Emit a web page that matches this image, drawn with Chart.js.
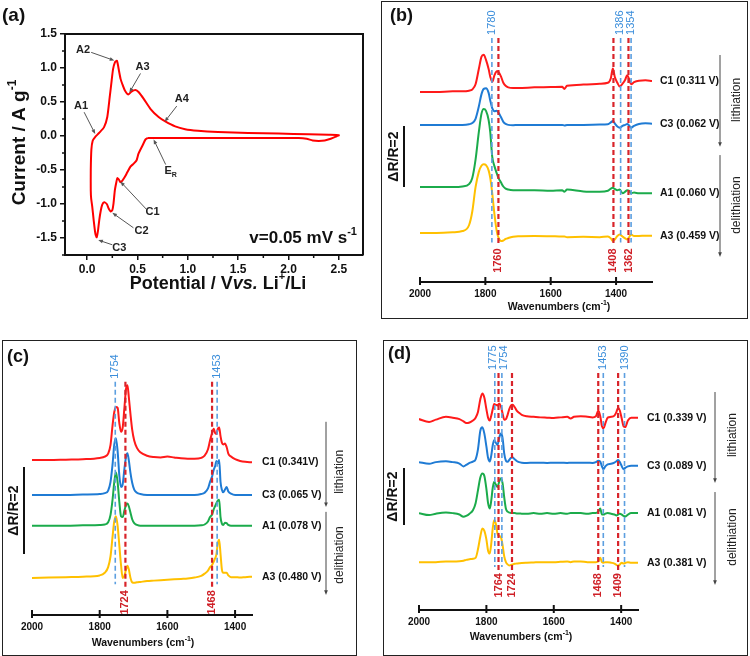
<!DOCTYPE html>
<html lang="en">
<head>
<meta charset="UTF-8" />
<title>CV and in situ IR spectra</title>
<script src="https://cdn.jsdelivr.net/npm/chart.js"></script>
<style>
  body { margin: 0; background: #fff; width: 750px; height: 656px; overflow: hidden; position: relative; }
  canvas { position: absolute; }
  .frame { position: absolute; border: 1.5px solid #222; box-sizing: border-box; }
</style>
</head>
<body>
<div class="frame" style="left:381px;top:1px;width:367px;height:318px"></div>
<div class="frame" style="left:2px;top:340px;width:355px;height:316px"></div>
<div class="frame" style="left:383px;top:340px;width:365px;height:316px"></div>
<canvas id="cv" width="375" height="300" style="left:0;top:0"></canvas>
<canvas id="irB" width="369" height="320" style="left:381px;top:0"></canvas>
<canvas id="irC" width="360" height="318" style="left:0;top:338px"></canvas>
<canvas id="irD" width="369" height="318" style="left:381px;top:338px"></canvas>

<script>
const FONT = '"Liberation Sans", Arial, sans-serif';
Chart.defaults.font.family = FONT;

// ---- (a) cyclic voltammogram: one loop, starting at E_R going cathodic ----
const cvPotential = [
  0.60, 0.58, 0.55, 0.51, 0.49, 0.46, 0.43, 0.40, 0.375, 0.35, 0.33, 0.315, 0.30, 0.29, 0.275,
  0.262, 0.25, 0.234, 0.215, 0.195, 0.17, 0.15, 0.135, 0.12, 0.107, 0.095, 0.082, 0.065, 0.05, 0.04,
  0.036, 0.036, 0.042, 0.055, 0.079, 0.118, 0.168, 0.20, 0.224, 0.243, 0.257, 0.275, 0.296, 0.316, 0.332,
  0.349, 0.375, 0.408, 0.44, 0.48, 0.513, 0.562, 0.628, 0.71, 0.776, 0.874, 0.973, 1.10, 1.3, 1.6,
  1.9, 2.2, 2.4, 2.5,
  2.47, 2.42, 2.36, 2.3, 2.24, 2.18, 2.1, 1.8, 1.4, 1.0, 0.8, 0.65, 0.60
];
const cvCurrent = [
  -0.03, -0.05, -0.14, -0.26, -0.36, -0.41, -0.45, -0.53, -0.6, -0.655, -0.68, -0.64, -0.62, -0.68, -0.8,
  -0.99, -1.09, -1.11, -1.07, -1.0, -0.975, -1.01, -1.1, -1.24, -1.4, -1.49, -1.44, -1.24, -1.03, -0.92,
  -0.8, -0.5, -0.2, -0.07, -0.015, 0.044, 0.13, 0.28, 0.57, 0.81, 0.98, 1.08, 1.106, 0.96, 0.84,
  0.765, 0.668, 0.61, 0.653, 0.677, 0.643, 0.546, 0.40, 0.278, 0.214, 0.141, 0.10, 0.078, 0.06, 0.045,
  0.035, 0.025, 0.018, 0.012,
  -0.01, -0.04, -0.065, -0.072, -0.065, -0.04, -0.03, -0.03, -0.03, -0.028, -0.028, -0.028, -0.03
];
const cvXTicks = [0, 0.5, 1, 1.5, 2, 2.5];
const cvYTicks = [-1.5, -1, -0.5, 0, 0.5, 1, 1.5];
const cvXMinor = [0.25, 0.75, 1.25, 1.75, 2.25];
const cvYMinor = [-1.75, -1.25, -0.75, -0.25, 0.25, 0.75, 1.25];

// ---- IR spectra (ΔR/R, relative to each trace's own baseline) ----
const irTicks = [2000, 1800, 1600, 1400];
const traceNames = ['C1', 'C3', 'A1', 'A3'];

// (b)
const wnB = [2000, 1950, 1900, 1870, 1850, 1840, 1830, 1820, 1812, 1805, 1798, 1790, 1785, 1779, 1772,
  1765, 1760, 1752, 1745, 1738, 1730, 1715, 1700, 1650, 1600, 1565, 1558, 1550, 1500, 1450,
  1425, 1416, 1410, 1404, 1396, 1389, 1380, 1372, 1366, 1360, 1354, 1345, 1330, 1310, 1290];
const bC1 = [0, 0, 0.02, 0.02, 0.04, 0.08, 0.25, 0.75, 1.15, 1.22, 1.05, 0.75, 0.5, 0.33, 0.55,
  0.68, 0.66, 0.5, 0.3, 0.2, 0.15, 0.13, 0.13, 0.15, 0.16, 0.17, 0.1, 0.2, 0.24, 0.27,
  0.3, 0.45, 0.77, 0.5, 0.3, 0.18, 0.27, 0.4, 0.55, 0.42, 0.25, 0.32, 0.37, 0.38, 0.36];
const bC3 = [0, 0, 0, 0, 0.02, 0.06, 0.2, 0.6, 1.0, 1.18, 1.2, 1.05, 0.8, 0.55, 0.45,
  0.46, 0.4, 0.25, 0.1, 0.03, 0, -0.01, 0, 0, 0, 0, -0.02, 0, 0, 0.01,
  0.02, 0.08, 0.13, 0.05, -0.05, -0.09, -0.03, 0, 0.03, -0.02, -0.09, -0.03, 0.03, 0.05, 0.04];
const bA1 = [0, 0, 0, 0.02, 0.1, 0.3, 0.9, 1.8, 2.4, 2.56, 2.5, 2.2, 1.8, 1.0, 0.68,
  0.45, 0.3, 0.15, 0.02, -0.05, -0.08, -0.1, -0.1, -0.1, -0.12, -0.1, -0.15, -0.08, -0.14, -0.15,
  -0.12, -0.05, -0.02, -0.06, -0.1, -0.08, -0.2, -0.15, -0.1, -0.12, -0.2, -0.18, -0.2, -0.2, -0.2];
const bA3 = [0, 0, 0.02, 0.06, 0.25, 0.7, 1.5, 2.0, 2.2, 2.25, 2.22, 2.05, 1.8, 1.3, 0.6,
  0.05, -0.15, -0.27, -0.25, -0.2, -0.17, -0.13, -0.11, -0.1, -0.11, -0.12, -0.12, -0.14, -0.13, -0.14,
  -0.12, -0.18, -0.27, -0.22, -0.1, -0.05, -0.12, -0.18, -0.22, -0.14, -0.05, -0.1, -0.1, -0.09, -0.09];
const bOffsets = [6.23, 5.15, 3.11, 1.61];
const bPotentials = ['0.311 V', '0.062 V', '0.060 V', '0.459 V'];
const bBlue = [1780, 1386, 1354];
const bRed = [1760, 1408, 1362];

// (c)
const wnC = [2000, 1950, 1900, 1850, 1800, 1785, 1775, 1768, 1762, 1757, 1752, 1747, 1742, 1737, 1732,
  1727, 1722, 1718, 1714, 1709, 1704, 1698, 1690, 1680, 1660, 1640, 1620, 1600, 1580, 1560,
  1540, 1520, 1500, 1490, 1480, 1474, 1468, 1463, 1459, 1455, 1451, 1447, 1443, 1439, 1435,
  1430, 1425, 1420, 1412, 1400, 1385, 1370, 1350];
const cC1 = [0, 0, 0.01, 0.02, 0.05, 0.08, 0.15, 0.35, 0.8, 1.1, 1.22, 1.2, 0.85, 0.65, 0.75,
  1.2, 1.65, 1.72, 1.45, 1.05, 0.7, 0.45, 0.28, 0.18, 0.1, 0.07, 0.06, 0.08, 0.06, 0.04,
  0.03, 0.03, 0.05, 0.1, 0.25, 0.45, 0.62, 0.72, 0.62, 0.6, 0.72, 0.75, 0.55, 0.4, 0.36,
  0.38, 0.3, 0.15, 0.08, 0.02, -0.02, -0.04, -0.05];
const cC3 = [0, 0, 0, 0.01, 0.02, 0.04, 0.1, 0.3, 0.7, 1.15, 1.3, 1.0, 0.45, 0.18, 0.25,
  0.6, 0.88, 0.96, 0.8, 0.5, 0.28, 0.12, 0.05, 0.02, 0, 0, 0, 0, 0, 0,
  0, 0, 0.02, 0.05, 0.15, 0.3, 0.42, 0.58, 0.66, 0.78, 0.72, 0.8, 0.3, 0.12, 0.06,
  0.12, 0.18, 0.08, 0.03, 0, 0, 0, 0];
const cA1 = [0, 0, 0, 0.01, 0.02, 0.03, 0.08, 0.25, 0.6, 1.0, 1.23, 1.0, 0.55, 0.22, 0.2,
  0.35, 0.48, 0.51, 0.45, 0.3, 0.15, 0.06, 0.02, 0, 0, 0, 0, 0, 0, 0,
  0, 0, 0.01, 0.03, 0.1, 0.2, 0.26, 0.38, 0.45, 0.52, 0.58, 0.6, 0.2, 0.05, 0.02,
  0.07, 0.06, 0.02, 0, 0, 0, 0, 0];
const cA3 = [0, 0.01, 0.02, 0.03, 0.06, 0.12, 0.25, 0.5, 0.95, 1.3, 1.42, 1.2, 0.75, 0.3, 0.0,
  0.05, 0.2, 0.28, 0.2, 0.0, -0.1, -0.11, -0.1, -0.09, -0.07, -0.06, -0.05, -0.04, -0.03, -0.02,
  -0.01, 0.01, 0.05, 0.1, 0.17, 0.25, 0.3, 0.38, 0.45, 0.55, 0.8, 0.88, 0.55, 0.2, 0.12,
  0.12, 0.12, 0.06, 0.02, 0.02, 0.01, 0.02, 0.03];
const cOffsets = [3.56, 2.76, 2.05, 0.85];
const cPotentials = ['0.341V', '0.065 V', '0.078 V', '0.480 V'];
const cBlue = [1754, 1453];
const cRed = [1724, 1468];

// (d)
const wnD = [2000, 1970, 1950, 1920, 1900, 1880, 1868, 1860, 1850, 1840, 1832, 1825, 1818, 1812, 1806,
  1800, 1795, 1790, 1786, 1781, 1777, 1772, 1767, 1762, 1757, 1752, 1747, 1742, 1737, 1732,
  1727, 1722, 1716, 1710, 1703, 1695, 1680, 1660, 1640, 1620, 1600, 1580, 1560, 1550, 1540,
  1520, 1500, 1485, 1475, 1468, 1462, 1457, 1452, 1447, 1440, 1430, 1420, 1414, 1409, 1404,
  1398, 1393, 1388, 1380, 1370, 1360, 1350];
const dC1 = [0, -0.1, -0.02, 0.08, 0.05, 0.0, -0.08, -0.14, -0.12, -0.05, 0.05, 0.25, 0.7, 0.9, 0.75,
  0.35, 0.05, -0.05, 0.1, 0.35, 0.53, 0.5, 0.48, 0.55, 0.45, 0.2, -0.02, 0.0, 0.15, 0.35,
  0.48, 0.5, 0.42, 0.3, 0.22, 0.15, 0.1, 0.08, 0.06, 0.05, 0.04, 0.06, 0.08, 0.02, 0.08,
  0.1, 0.08, 0.06, 0.1, 0.3, 0.1, -0.25, -0.32, -0.15, 0.05, 0.08, 0.12, 0.25, 0.4, 0.3,
  0.0, -0.25, -0.28, -0.05, 0.05, 0.05, 0.05];
const dC3 = [0, -0.06, 0.0, 0.03, 0.0, -0.05, -0.15, -0.1, -0.03, 0.02, 0.1, 0.45, 1.1, 1.22, 1.0,
  0.55, 0.15, 0.02, 0.2, 0.6, 0.77, 0.68, 0.6, 0.85, 1.0, 0.85, 0.3, 0.05, 0.01, 0.08,
  0.15, 0.16, 0.1, 0.04, 0.0, -0.02, -0.03, -0.02, -0.02, -0.03, -0.02, -0.02, -0.03, -0.02, -0.02,
  -0.02, -0.02, -0.03, 0.0, 0.05, 0.02, -0.15, -0.25, -0.15, -0.08, -0.06, -0.02, 0.03, 0.07, 0.0,
  -0.15, -0.25, -0.2, -0.15, -0.13, -0.13, -0.13];
const dA1 = [0, -0.07, -0.02, 0.02, 0.0, -0.05, -0.13, -0.1, -0.02, 0.1, 0.35, 0.8, 1.25, 1.39, 1.3,
  0.85, 0.35, 0.16, 0.4, 0.9, 1.1, 1.0, 0.92, 1.1, 1.22, 1.05, 0.55, 0.15, 0.05, 0.02,
  0.0, 0.0, 0.0, -0.01, -0.01, -0.02, -0.02, 0.0, -0.02, 0.0, -0.02, 0.0, -0.02, 0.0, 0.0,
  0.0, -0.02, 0.0, 0.0, 0.05, 0.16, -0.05, -0.05, -0.02, 0.0, -0.02, -0.05, -0.08, -0.05, -0.02,
  -0.05, -0.1, -0.12, -0.05, 0.0, 0.0, 0.0];
const dA3 = [0, 0.0, 0.0, 0.02, 0.02, 0.03, 0.05, 0.08, 0.1, 0.12, 0.15, 0.45, 0.9, 1.18, 1.1,
  0.8, 0.4, 0.3, 0.6, 1.2, 1.47, 1.35, 1.0, 0.92, 0.88, 0.6, 0.2, 0.0, -0.08, -0.12,
  -0.1, -0.08, -0.06, -0.05, -0.04, -0.03, -0.02, -0.01, 0.0, 0.0, 0.0, 0.01, 0.02, 0.0, 0.02,
  0.02, 0.0, 0.0, 0.0, 0.02, 0.15, 0.0, -0.02, 0.0, 0.0, -0.02, -0.05, -0.1, -0.13, -0.08,
  -0.02, -0.05, -0.03, 0.0, -0.02, -0.02, -0.02];
const dOffsets = [6.70, 5.19, 3.40, 1.68];
const dPotentials = ['0.339 V', '0.089 V', '0.081 V', '0.381 V'];
const dBlue = [1775, 1754, 1453, 1390];
const dRed = [1764, 1724, 1468, 1409];

// ---- drawing helpers ----
function richText(ctx, parts, x, y, size, opts = {}) {
  const weight = opts.weight || 'bold';
  const fontFor = st => (st === 'i' ? 'italic ' : '') + weight + ' ' +
    (st === 'sup' || st === 'sub' ? Math.round(size * 0.62) : size) + 'px ' + FONT;
  ctx.save();
  ctx.translate(x, y);
  if (opts.rot) ctx.rotate(opts.rot);
  ctx.fillStyle = opts.color || '#111';
  let w = 0;
  parts.forEach(([t, st]) => { ctx.font = fontFor(st); w += ctx.measureText(t).width; });
  let cx = opts.align === 'center' ? -w / 2 : opts.align === 'right' ? -w : 0;
  ctx.textBaseline = 'middle';
  ctx.textAlign = 'left';
  parts.forEach(([t, st]) => {
    ctx.font = fontFor(st);
    const dy = st === 'sup' ? -size * 0.38 : st === 'sub' ? size * 0.32 : 0;
    ctx.fillText(t, cx, dy);
    cx += ctx.measureText(t).width;
  });
  ctx.restore();
}

function seg(ctx, x1, y1, x2, y2, color, lw) {
  ctx.save();
  ctx.strokeStyle = color; ctx.lineWidth = lw;
  ctx.beginPath(); ctx.moveTo(x1, y1); ctx.lineTo(x2, y2); ctx.stroke();
  ctx.restore();
}

function arrow(ctx, x1, y1, x2, y2, color, head) {
  const a = Math.atan2(y2 - y1, x2 - x1);
  ctx.save();
  ctx.strokeStyle = color; ctx.fillStyle = color; ctx.lineWidth = 1;
  ctx.beginPath();
  ctx.moveTo(x1, y1);
  ctx.lineTo(x2 - Math.cos(a) * head * 0.8, y2 - Math.sin(a) * head * 0.8);
  ctx.stroke();
  ctx.beginPath();
  ctx.moveTo(x2, y2);
  ctx.lineTo(x2 - head * Math.cos(a - 0.38), y2 - head * Math.sin(a - 0.38));
  ctx.lineTo(x2 - head * Math.cos(a + 0.38), y2 - head * Math.sin(a + 0.38));
  ctx.closePath();
  ctx.fill();
  ctx.restore();
}

// spread label positions apart when two dashed lines sit too close together
function spread(px, gap) {
  const out = px.slice();
  for (let i = 1; i < out.length; i++) {
    const d = out[i] - out[i - 1];
    if (d < gap) { out[i - 1] -= (gap - d) / 2; out[i] += (gap - d) / 2; }
  }
  return out;
}

// ---- (a) CV panel ----
const cvNotes = [
  { t: [['A1', '']], at: [-0.06, 0.44], from: [-0.03, 0.35], to: [0.08, 0.03] },
  { t: [['A2', '']], at: [-0.04, 1.26], from: [0.04, 1.23], to: [0.27, 1.11] },
  { t: [['A3', '']], at: [0.55, 1.01], from: [0.53, 0.92], to: [0.42, 0.64] },
  { t: [['A4', '']], at: [0.94, 0.54], from: [0.89, 0.44], to: [0.77, 0.21] },
  { t: [['E', ''], ['R', 'sub']], at: [0.83, -0.52], from: [0.78, -0.42], to: [0.66, -0.05] },
  { t: [['C1', '']], at: [0.65, -1.12], from: [0.59, -1.08], to: [0.33, -0.67] },
  { t: [['C2', '']], at: [0.54, -1.40], from: [0.46, -1.35], to: [0.25, -1.13] },
  { t: [['C3', '']], at: [0.32, -1.64], from: [0.25, -1.60], to: [0.11, -1.53] }
];

const cvDecor = {
  id: 'cvDecor',
  afterDraw(chart) {
    const { ctx, chartArea: a, scales: { x, y } } = chart;
    // closing frame (top and right)
    ctx.save();
    ctx.strokeStyle = '#111'; ctx.lineWidth = 2;
    ctx.beginPath(); ctx.moveTo(a.left, a.top); ctx.lineTo(a.right, a.top); ctx.lineTo(a.right, a.bottom); ctx.stroke();
    ctx.restore();
    // minor ticks
    cvXMinor.forEach(v => { const p = x.getPixelForValue(v); seg(ctx, p, a.bottom, p, a.bottom + 3, '#111', 1.5); });
    cvYMinor.forEach(v => { const p = y.getPixelForValue(v); seg(ctx, a.left - 3, p, a.left, p, '#111', 1.5); });
    // peak labels with arrows
    cvNotes.forEach(n => {
      arrow(ctx, x.getPixelForValue(n.from[0]), y.getPixelForValue(n.from[1]),
        x.getPixelForValue(n.to[0]), y.getPixelForValue(n.to[1]), '#555', 5);
      richText(ctx, n.t, x.getPixelForValue(n.at[0]), y.getPixelForValue(n.at[1]), 11, { align: 'center', color: '#222' });
    });
    richText(ctx, [['v=0.05 mV s', ''], ['-1', 'sup']], x.getPixelForValue(2.68), y.getPixelForValue(-1.5), 17, { align: 'right' });
    // axis titles
    richText(ctx, [['Potential / V', ''], ['vs.', 'i'], [' Li', ''], ['+', 'sup'], ['/Li', '']],
      (a.left + a.right) / 2 + 4, 284, 18, { align: 'center' });
    richText(ctx, [['Current / A g', ''], ['-1', 'sup']], 20, (a.top + a.bottom) / 2 - 2, 19,
      { align: 'center', rot: -Math.PI / 2 });
    richText(ctx, [['(a)', '']], 2, 16, 19, {});
  }
};

const tickFont = { family: FONT, size: 12, weight: 'bold' };
new Chart(document.getElementById('cv'), {
  type: 'scatter',
  data: {
    datasets: [{
      data: cvPotential.map((v, i) => ({ x: v, y: cvCurrent[i] })),
      showLine: true, borderColor: '#ff0000', borderWidth: 2, pointRadius: 0, tension: 0.2
    }]
  },
  options: {
    responsive: false, animation: false, events: [],
    layout: { padding: { left: 0, right: 12, top: 34, bottom: 0 } },
    plugins: { legend: { display: false }, tooltip: { enabled: false } },
    scales: {
      x: {
        type: 'linear', min: -0.22, max: 2.74,
        afterBuildTicks: s => { s.ticks = cvXTicks.map(v => ({ value: v })); },
        afterFit: s => { s.height = 45; },
        grid: { drawOnChartArea: false, drawTicks: true, tickLength: 5, color: '#111', lineWidth: 1.5 },
        border: { color: '#111', width: 2 },
        ticks: { font: tickFont, color: '#111', padding: 2, maxRotation: 0, callback: v => v.toFixed(1) }
      },
      y: {
        type: 'linear', min: -1.75, max: 1.5,
        afterBuildTicks: s => { s.ticks = cvYTicks.map(v => ({ value: v })); },
        afterFit: s => { s.width = 65; },
        grid: { drawOnChartArea: false, drawTicks: true, tickLength: 5, color: '#111', lineWidth: 1.5 },
        border: { color: '#111', width: 2 },
        ticks: { font: tickFont, color: '#111', padding: 3, callback: v => v.toFixed(1) }
      }
    }
  },
  plugins: [cvDecor]
});

// ---- IR panels ----
const traceColors = ['#ff1a1a', '#1f7bd4', '#1bab4b', '#ffc000'];

const irDecor = {
  id: 'irDecor',
  afterDraw(chart, args, o) {
    const { ctx, chartArea: a, scales: { x, y } } = chart;
    irTicks.forEach(v => { const p = x.getPixelForValue(v); seg(ctx, p, a.bottom - 5, p, a.bottom + 3, '#111', 2); });
    // dashed guide lines with wavenumber labels
    const top = y.getPixelForValue(o.dash[0]), bot = y.getPixelForValue(o.dash[1]);
    ctx.save();
    ctx.setLineDash([5, 3]);
    o.blue.forEach(w => { const p = x.getPixelForValue(w); seg(ctx, p, top, p, bot - 3, '#5c9fe0', 1.6); });
    o.red.forEach(w => { const p = x.getPixelForValue(w); seg(ctx, p, top, p, bot, '#d8232a', 2.2); });
    ctx.restore();
    const bluePx = spread(o.blue.map(w => x.getPixelForValue(w)), 11);
    const redPx = spread(o.red.map(w => x.getPixelForValue(w)), 11);
    o.blue.forEach((w, i) => richText(ctx, [[String(w), '']], bluePx[i], top - 3, 11,
      { weight: 'normal', color: '#3b8edb', rot: -Math.PI / 2 }));
    o.red.forEach((w, i) => richText(ctx, [[String(w), '']], redPx[i], bot + 3, 11,
      { weight: 'bold', color: '#cf2027', rot: -Math.PI / 2, align: 'right' }));
    // ΔR/R scale bar
    const bx = a.left + o.bar.dx;
    seg(ctx, bx, y.getPixelForValue(o.bar.from), bx, y.getPixelForValue(o.bar.to), '#111', 2);
    richText(ctx, [['ΔR/R=2', '']], a.left + o.bar.labelDx, y.getPixelForValue((o.bar.from + o.bar.to) / 2), 14,
      { align: 'center', rot: -Math.PI / 2 });
    // trace names at the right end of each spectrum
    chart.data.datasets.forEach((ds, i) => {
      const last = ds.data[ds.data.length - 1].y;
      richText(ctx, [[traceNames[i] + ' (' + o.potentials[i] + ')', '']], a.right + o.labelDx, y.getPixelForValue(last), 10.5, {});
    });
    // lithiation / delithiation arrows
    const ax = a.right + o.arrows.dx, tx = a.right + o.arrows.textDx;
    [['lithiation', o.arrows.lith], ['delithiation', o.arrows.delith]].forEach(([t, r]) => {
      arrow(ctx, ax, y.getPixelForValue(r[0]), ax, y.getPixelForValue(r[1]), '#444', 5);
      richText(ctx, [[t, '']], tx, y.getPixelForValue(r[2]), 12, { weight: 'normal', color: '#222', align: 'center', rot: -Math.PI / 2 });
    });
    richText(ctx, [['Wavenumbers (cm', ''], ['-1', 'sup'], [')', '']], o.title[0], o.title[1], 10.5, { align: 'center' });
    richText(ctx, [[o.letter[0], '']], o.letter[1], o.letter[2], 18, {});
  }
};

function irChart(id, wn, traces, offsets, cfg) {
  return new Chart(document.getElementById(id), {
    type: 'line',
    data: {
      datasets: traces.map((t, i) => ({
        data: wn.map((w, k) => ({ x: w, y: t[k] + offsets[i] })),
        borderColor: traceColors[i], borderWidth: 2, pointRadius: 0,
        cubicInterpolationMode: 'monotone', fill: false
      }))
    },
    options: {
      responsive: false, animation: false, events: [],
      layout: { padding: { left: cfg.box[0], right: cfg.box[1], top: cfg.box[2], bottom: 0 } },
      plugins: { legend: { display: false }, tooltip: { enabled: false }, irDecor: cfg },
      scales: {
        x: {
          type: 'linear', reverse: true, min: cfg.xMin, max: 2000,
          afterBuildTicks: s => { s.ticks = irTicks.map(v => ({ value: v })); },
          afterFit: s => { s.height = cfg.box[3]; },
          grid: { drawOnChartArea: false, drawTicks: false },
          border: { color: '#111', width: 2 },
          ticks: { font: { family: FONT, size: 10, weight: 'bold' }, color: '#111', padding: 6, maxRotation: 0,
            callback: v => String(v) }
        },
        y: { display: false, min: 0, max: cfg.yMax }
      }
    },
    plugins: [irDecor]
  });
}

irChart('irB', wnB, [bC1, bC3, bA1, bA3], bOffsets, {
  box: [39, 98, 30, 38], xMin: 1290, yMax: 8.26,
  potentials: bPotentials, blue: bBlue, red: bRed, dash: [8.0, 1.2],
  bar: { from: 3.11, to: 5.11, dx: -16, labelDx: -26 }, labelDx: 8,
  arrows: { dx: 68, textDx: 85, lith: [7.44, 4.43, 5.97], delith: [4.16, 0.82, 2.52] },
  title: [178, 307], letter: ['(b)', 9, 16]
});

irChart('irC', wnC, [cC1, cC3, cA1, cA3], cOffsets, {
  box: [32, 108, 12, 41], xMin: 1350, yMax: 6.09,
  potentials: cPotentials, blue: cBlue, red: cRed, dash: [5.36, 0.64],
  bar: { from: 1.40, to: 3.40, dx: -8, labelDx: -18 }, labelDx: 10,
  arrows: { dx: 74, textDx: 88, lith: [4.44, 2.48, 3.29], delith: [2.37, 0.46, 1.38] },
  title: [143, 305], letter: ['(c)', 7, 19]
});

irChart('irD', wnD, [dC1, dC3, dA1, dA3], dOffsets, {
  box: [38, 112, 7, 46], xMin: 1350, yMax: 9.30,
  potentials: dPotentials, blue: dBlue, red: dRed, dash: [8.32, 1.40],
  bar: { from: 2.98, to: 4.98, dx: -15, labelDx: -26 }, labelDx: 9,
  arrows: { dx: 77, textDx: 95, lith: [7.65, 4.46, 6.14], delith: [4.14, 0.88, 2.56] },
  title: [140, 299], letter: ['(d)', 7, 16]
});
</script>
</body>
</html>
